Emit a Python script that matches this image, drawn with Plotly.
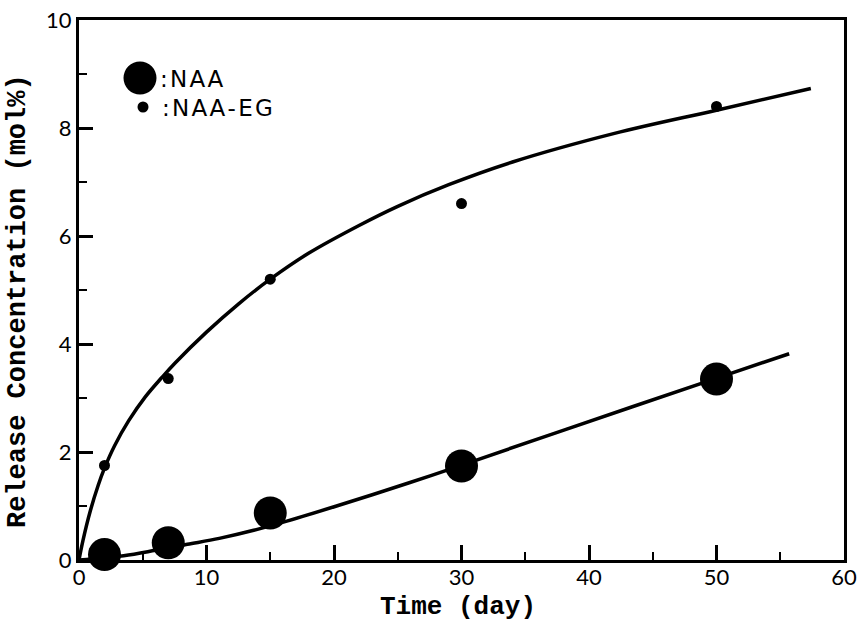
import plotly.graph_objects as go

naa_days = [2, 7, 15, 30, 50]
naa_vals = [0.10, 0.32, 0.87, 1.74, 3.35]
eg_days = [2, 7, 15, 30, 50]
eg_vals = [1.75, 3.36, 5.20, 6.60, 8.40]

# Fitted curves
eg_curve_days = [0, 0.3, 0.9, 1.5, 2.0, 2.8, 3.9, 5.2, 6.5, 7.5, 10.0, 12.5, 15.0,
                 18.0, 22.0, 25.0, 29.0, 34.0, 42.0, 50.0, 57.4]
eg_curve_vals = [0, 0.35, 0.92, 1.38, 1.70, 2.12, 2.58, 3.02, 3.38, 3.64, 4.22, 4.74, 5.20,
                 5.68, 6.20, 6.55, 6.95, 7.37, 7.90, 8.33, 8.73]
naa_curve_days = [0, 3.5, 6.0, 8.5, 11.0, 13.7, 16.3, 20.2, 25.9, 29.8, 38.2, 49.8, 55.7]
naa_curve_vals = [0, 0.08, 0.18, 0.29, 0.40, 0.55, 0.72, 1.00, 1.43, 1.74, 2.42, 3.35, 3.82]

x_ticks = [0, 10, 20, 30, 40, 50, 60]
y_ticks = [0, 2, 4, 6, 8, 10]

fig = go.Figure()
for cx, cy in [(eg_curve_days, eg_curve_vals), (naa_curve_days, naa_curve_vals)]:
    fig.add_trace(go.Scatter(x=cx, y=cy, mode="lines",
                             line=dict(color="black", width=3.5, shape="spline", smoothing=1.0),
                             showlegend=False, cliponaxis=False))
fig.add_trace(go.Scatter(x=naa_days, y=naa_vals, mode="markers", name="NAA",
                         marker=dict(color="black", size=33, line=dict(width=0)),
                         showlegend=False, cliponaxis=False))
fig.add_trace(go.Scatter(x=eg_days, y=eg_vals, mode="markers", name="NAA-EG",
                         marker=dict(color="black", size=11, line=dict(width=0)),
                         showlegend=False, cliponaxis=False))

tick_font = dict(family="Lato, DejaVu Sans, sans-serif", size=22, color="black")
title_font = dict(family="Liberation Mono, Courier New, monospace", size=26, color="black")

fig.update_xaxes(range=[0, 60], tickvals=x_ticks, ticktext=[str(v) for v in x_ticks],
                 ticks="inside", ticklen=15, tickwidth=2.5, tickcolor="black",
                 minor=dict(dtick=5, ticks="inside", ticklen=8, tickwidth=2, tickcolor="black"),
                 showline=True, linewidth=3, linecolor="black", mirror=True,
                 showgrid=False, zeroline=False, tickfont=tick_font, automargin=False,
                 ticklabelstandoff=-4)
fig.update_yaxes(range=[0, 10], tickvals=y_ticks, ticktext=[str(v) for v in y_ticks],
                 ticks="inside", ticklen=14, tickwidth=2.5, tickcolor="black",
                 minor=dict(dtick=1, ticks="inside", ticklen=8, tickwidth=2, tickcolor="black"),
                 showline=True, linewidth=3, linecolor="black", mirror=True,
                 showgrid=False, zeroline=False, tickfont=tick_font, automargin=False)

PL, PB, PW, PH = 79, 560, 765, 540  # plot area in pixels (left, bottom, width, height)

def px(x):
    return (x - PL) / PW

def py(y):
    return (PB - y) / PH

# Axis titles
fig.add_annotation(text="<b>Time (day)</b>", xref="paper", yref="paper",
                   x=px(458), y=py(623), xanchor="center", yanchor="bottom", borderpad=0,
                   showarrow=False, font=title_font)
fig.add_annotation(text="<b>Release Concentration (mol%)</b>", xref="paper", yref="paper",
                   x=px(18), y=py(301), xanchor="center", yanchor="middle", textangle=-90,
                   showarrow=False, font=dict(title_font, size=27))

# Legend drawn manually
legend_font = dict(family="DejaVu Sans, sans-serif", size=23, color="black")
hs = "\u200a"
fig.add_shape(type="circle", xref="paper", yref="paper",
              x0=px(140 - 16.5), x1=px(140 + 16.5), y0=py(78 + 16.5), y1=py(78 - 16.5),
              fillcolor="black", line=dict(width=0))
fig.add_shape(type="circle", xref="paper", yref="paper",
              x0=px(143 - 5.5), x1=px(143 + 5.5), y0=py(107 + 5.5), y1=py(107 - 5.5),
              fillcolor="black", line=dict(width=0))
fig.add_annotation(text=hs.join(":NAA"), xref="paper", yref="paper",
                   x=px(158), y=py(79), xanchor="left", yanchor="middle",
                   showarrow=False, font=legend_font)
fig.add_annotation(text=hs.join(":NAA-EG"), xref="paper", yref="paper",
                   x=px(160), y=py(108), xanchor="left", yanchor="middle",
                   showarrow=False, font=legend_font)

fig.update_layout(width=859, height=623, plot_bgcolor="white", paper_bgcolor="white",
                  margin=dict(l=PL, r=859 - PL - PW, t=PB - PH, b=623 - PB), showlegend=False)

fig.write_html("out.html")
